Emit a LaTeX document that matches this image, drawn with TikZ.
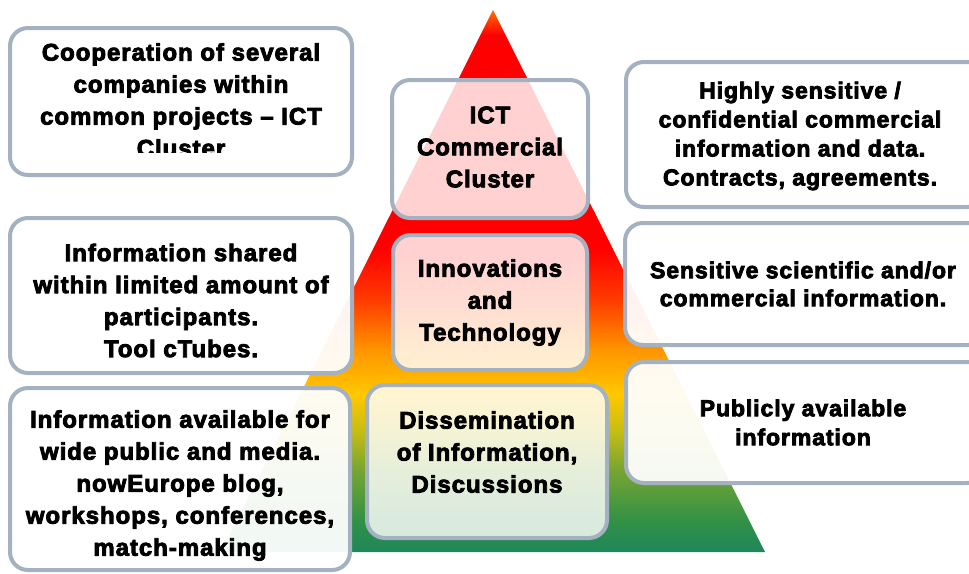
\documentclass[tikz,border=0pt]{standalone}
\usepackage{fontspec}
\setmainfont{Liberation Sans}[LetterSpace=4,BoldFeatures={FakeBold=3.5}]
\definecolor{boxgray}{RGB}{163,177,192}
\definecolor{pgreen}{RGB}{30,135,90}
\definecolor{pgreenb}{RGB}{50,145,70}
\definecolor{polive}{RGB}{120,165,50}
\definecolor{pmustard}{RGB}{200,190,20}
\definecolor{pyellow}{RGB}{255,200,0}
\definecolor{porange}{RGB}{255,150,0}
\definecolor{pred}{RGB}{255,60,0}
\definecolor{papex}{RGB}{255,110,0}
\pgfdeclareverticalshading{pyramid}{100bp}{color(0bp)=(pgreen); color(25bp)=(pgreen);
  color(27.9bp)=(pgreenb); color(32.6bp)=(polive); color(36.3bp)=(pmustard);
  color(39.5bp)=(pyellow); color(43.6bp)=(porange); color(48.2bp)=(pred);
  color(52.9bp)=(red); color(72.7bp)=(red); color(75bp)=(papex); color(100bp)=(papex)}
\tikzset{
  box/.style={draw=boxgray,line width=4pt,rounded corners=18pt,fill=white},
  midbox/.style={box,fill opacity=0.82},
  sidebox/.style={box,fill opacity=0.94},
  txt/.style={align=center,font=\bfseries\fontsize{24}{32}\selectfont},
}
\begin{document}
\begin{tikzpicture}[x=1pt,y=1pt]
  \clip (0,0) rectangle (969,-573);
  \fill[white] (0,0) rectangle (969,-573);
  \shade[shading=pyramid] (221,-552) -- (493,-10) -- (765,-552) -- cycle;

  \node[box,minimum width=342,minimum height=147] (coop) at (181,-101.5) {};
  \begin{scope}
    \clip (0,0) rectangle (360,-152);
    \node[txt] at ([yshift=1.5]coop) {Cooperation of several\\companies within\\common projects -- ICT\\Cluster};
  \end{scope}
  \node[sidebox,minimum width=342,minimum height=155] (shared) at (181,-295.5) {};
  \node[txt] at ([yshift=-5]shared) {Information shared\\within limited amount of\\participants.\\Tool cTubes.};
  \node[sidebox,minimum width=340,minimum height=182] (public) at (180,-479) {};
  \node[txt] at ([yshift=-6.5]public) {Information available for\\wide public and media.\\nowEurope blog,\\workshops, conferences,\\match-making};

  \node[midbox,minimum width=196,minimum height=138] (ict) at (490,-149) {};
  \node[txt] at ([yshift=2]ict) {ICT\\Commercial\\Cluster};
  \node[midbox,minimum width=194,minimum height=135] (innov) at (490,-302.5) {};
  \node[txt] at (innov) {Innovations\\and\\Technology};
  \node[midbox,minimum width=240,minimum height=153] (dissem) at (487,-461.5) {};
  \node[txt] at ([yshift=9.5]dissem) {Dissemination\\of Information,\\Discussions};

  \node[sidebox,minimum width=359,minimum height=145] (conf) at (805.5,-134.5) {};
  \node[txt,font=\bfseries\fontsize{23}{29}\selectfont] at ([xshift=-5.5,yshift=-1.5]conf) {Highly sensitive /\\confidential commercial\\information and data.\\Contracts, agreements.};
  \node[sidebox,minimum width=360,minimum height=122] (sens) at (805,-284) {};
  \node[txt,font=\bfseries\fontsize{23}{28}\selectfont] at ([xshift=-2]sens) {Sensitive scientific and/or\\commercial information.};
  \node[sidebox,minimum width=359,minimum height=121] (pub) at (805.5,-422.5) {};
  \node[txt,font=\bfseries\fontsize{23}{29}\selectfont] at ([xshift=-2.5]pub) {Publicly available\\information};
\end{tikzpicture}
\end{document}
